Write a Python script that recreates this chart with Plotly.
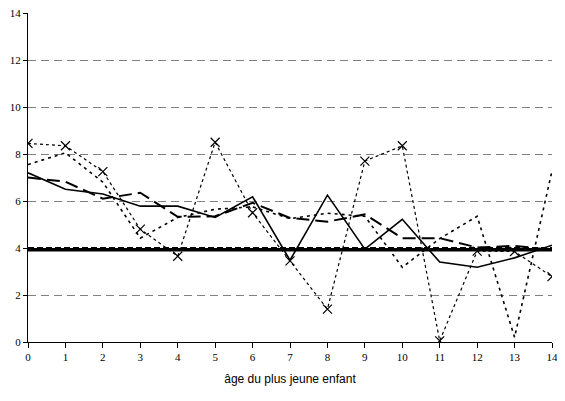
import plotly.graph_objects as go

# âge du plus jeune enfant
ages = list(range(15))

serie_pleine = [7.2, 6.5, 6.3, 5.78, 5.78, 5.3, 6.18, 3.48, 6.25, 3.95, 5.22, 3.4, 3.18, 3.58, 4.12]
serie_tirets = [7.0, 6.82, 6.1, 6.35, 5.33, 5.35, 5.92, 5.28, 5.12, 5.43, 4.42, 4.42, 4.02, 4.09, 3.92]
serie_points = [7.55, 8.05, 6.8, 4.42, 5.3, 5.65, 5.75, 5.25, 5.48, 5.35, 3.18, 4.4, 5.35, 0.2, 7.28]
serie_croix = [8.45, 8.35, 7.25, 4.8, 3.65, 8.5, 5.5, 3.45, 1.4, 7.7, 8.35, 0.05, 3.87, 3.85, 2.78]
moyenne_pleine = [3.93] * 15
moyenne_tirets = [4.0] * 15

fig = go.Figure()

# lignes horizontales (moyennes)
fig.add_trace(go.Scatter(x=ages, y=moyenne_tirets, mode='lines',
                         line=dict(color='black', width=2, dash='6px,3px')))
fig.add_trace(go.Scatter(x=ages, y=moyenne_pleine, mode='lines',
                         line=dict(color='black', width=3.5)))

fig.add_trace(go.Scatter(x=ages, y=serie_pleine, mode='lines',
                         line=dict(color='black', width=1.6)))
fig.add_trace(go.Scatter(x=ages, y=serie_tirets, mode='lines',
                         line=dict(color='black', width=2, dash='13px,6px')))
fig.add_trace(go.Scatter(x=ages, y=serie_points, mode='lines',
                         line=dict(color='black', width=1.6, dash='3px,4px')))
fig.add_trace(go.Scatter(x=ages, y=serie_croix, mode='lines+markers',
                         line=dict(color='black', width=1.2, dash='3px,3px'),
                         marker=dict(symbol='x-thin', size=9, line=dict(color='black', width=1.2))))

police_serif = 'Liberation Serif, Times New Roman, serif'

# la page a une marge de 8px : figure un peu plus petite que la fenetre
fig.update_layout(
    width=557, height=385,
    margin=dict(l=20, r=13, t=5, b=51),
    paper_bgcolor='white', plot_bgcolor='white',
    showlegend=False,
    xaxis=dict(
        range=[0, 14], tickmode='array', tickvals=ages,
        automargin=False, ticklabeloverflow='allow',
        showgrid=False, zeroline=False,
        showline=True, linecolor='black', linewidth=1,
        ticks='outside', ticklen=5, tickcolor='black',
        tickfont=dict(family=police_serif, size=11, color='black'),
        title=dict(text='âge du plus jeune enfant', standoff=12,
                   font=dict(family='Arial, Liberation Sans', size=12, color='black')),
    ),
    yaxis=dict(
        range=[0, 14], tickmode='array', tickvals=[0, 2, 4, 6, 8, 10, 12, 14],
        automargin=False, ticklabeloverflow='allow',
        showgrid=True, gridcolor='#808080', gridwidth=1, griddash='8px,5px',
        zeroline=False,
        showline=True, linecolor='black', linewidth=1,
        ticks='outside', ticklen=4, tickcolor='black',
        tickfont=dict(family=police_serif, size=11, color='black'),
    ),
)

fig.write_html("out.html")
